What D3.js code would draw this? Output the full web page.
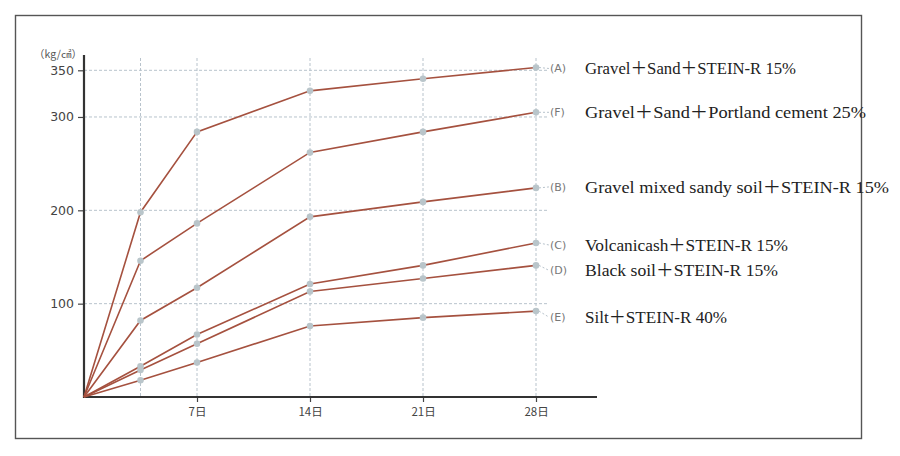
<!DOCTYPE html>
<html>
<head>
<meta charset="utf-8">
<script src="https://cdn.jsdelivr.net/npm/d3@7"></script>
<style>
  html, body { margin: 0; padding: 0; background: #fff; }
  svg { display: block; }
</style>
</head>
<body>
<svg id="chart" width="900" height="456"></svg>
<script>
// ---- data ----
const days = [0, 3.5, 7, 14, 21, 28];
const xTickDays = [7, 14, 21, 28];
const xTickLabels = ["7日", "14日", "21日", "28日"];
const yTickValues = [100, 200, 300, 350];
const yUnit = "（kg/㎠）";

const seriesKeys = ["A", "F", "B", "C", "D", "E"];
const seriesNames = [
  "Gravel＋Sand＋STEIN-R 15%",
  "Gravel＋Sand＋Portland cement 25%",
  "Gravel mixed sandy soil＋STEIN-R 15%",
  "Volcanicash＋STEIN-R 15%",
  "Black soil＋STEIN-R 15%",
  "Silt＋STEIN-R 40%"
];
const valuesA = [0, 198, 284, 328, 341, 353];
const valuesF = [0, 146, 186, 262, 284, 305];
const valuesB = [0, 82, 117, 193, 209, 224];
const valuesC = [0, 33, 67, 121, 141, 165];
const valuesD = [0, 29, 57, 113, 127, 141];
const valuesE = [0, 18, 37, 76, 85, 92];
const seriesValues = [valuesA, valuesF, valuesB, valuesC, valuesD, valuesE];

// ---- layout / style (not data) ----
const labelDy = [1, 0, -1, 2, 5, 6];          // small vertical nudges of the labels (px)
const labelWidths = [211, 281, 304, 203, 193, 142];
const lineColor = "#a5513f";
const markerColor = "#b9c5ca";
const gridColor = "#b8c3cc";

const svg = d3.select("#chart");

// outer frame
svg.append("rect")
  .attr("x", 15.5).attr("y", 15.5)
  .attr("width", 846).attr("height", 423)
  .attr("fill", "none").attr("stroke", "#555").attr("stroke-width", 1.4);

const x = d3.scaleLinear().domain([0, 28]).range([84, 536]);
const y = d3.scaleLinear().domain([0, 350]).range([397, 70.3]);

// grid lines
const grid = svg.append("g");
grid.selectAll("line.v").data(days.slice(1)).join("line")
  .attr("x1", d => x(d)).attr("x2", d => x(d))
  .attr("y1", 58).attr("y2", y(0))
  .attr("stroke", gridColor).attr("stroke-width", 1)
  .attr("stroke-dasharray", "3,2");
grid.selectAll("line.h").data(yTickValues).join("line")
  .attr("x1", x(0)).attr("x2", 548)
  .attr("y1", d => y(d)).attr("y2", d => y(d))
  .attr("stroke", gridColor).attr("stroke-width", 1)
  .attr("stroke-dasharray", "3,2");

// axes
const yAxis = d3.axisLeft(y).tickValues(yTickValues).tickSize(6).tickPadding(4);
const gy = svg.append("g").attr("transform", `translate(${x(0)},0)`).call(yAxis);
gy.select(".domain").remove();
gy.selectAll(".tick line").attr("stroke", "#444").attr("stroke-width", 1.2);
gy.selectAll(".tick text")
  .attr("fill", "#444").style("font-family", "'DejaVu Sans', sans-serif").style("font-size", "12.5px");

const xAxis = d3.axisBottom(x).tickValues(xTickDays)
  .tickFormat((d, i) => xTickLabels[i]).tickSize(5).tickPadding(6);
const gx = svg.append("g").attr("transform", `translate(0,${y(0)})`).call(xAxis);
gx.select(".domain").remove();
gx.selectAll(".tick line").attr("stroke", "#444").attr("stroke-width", 1.2);
gx.selectAll(".tick text")
  .attr("fill", "#444").style("font-family", "'Noto Sans CJK JP', sans-serif").style("font-size", "11.5px");

// axis lines
svg.append("line").attr("x1", x(0)).attr("x2", x(0)).attr("y1", 55).attr("y2", y(0) + 1)
  .attr("stroke", "#333").attr("stroke-width", 2.2);
svg.append("line").attr("x1", x(0) - 1).attr("x2", 597).attr("y1", y(0)).attr("y2", y(0))
  .attr("stroke", "#333").attr("stroke-width", 2.2);

// unit label
svg.append("text").attr("x", 58).attr("y", 58)
  .attr("text-anchor", "middle").attr("fill", "#555")
  .style("font-family", "'Noto Sans CJK JP', sans-serif").style("font-size", "10.5px")
  .text(yUnit);

// series
const line = d3.line().x((d, i) => x(days[i])).y(d => y(d));
const gs = svg.append("g");
seriesValues.forEach((vals, si) => {
  gs.append("path").datum(vals)
    .attr("d", line).attr("fill", "none")
    .attr("stroke", lineColor).attr("stroke-width", 1.6);
});
seriesValues.forEach((vals, si) => {
  gs.selectAll(null).data(vals.slice(1)).join("circle")
    .attr("cx", (d, i) => x(days[i + 1])).attr("cy", d => y(d))
    .attr("r", 3.3).attr("fill", markerColor);
});

// labels
seriesValues.forEach((vals, si) => {
  const last = vals[vals.length - 1];
  const ly = y(last) + labelDy[si];
  svg.append("line")
    .attr("x1", x(28) + 3).attr("x2", 549)
    .attr("y1", y(last)).attr("y2", ly)
    .attr("stroke", gridColor).attr("stroke-dasharray", "2,2");
  svg.append("text")
    .attr("x", 550).attr("y", ly + 4)
    .attr("fill", "#777")
    .style("font-family", "'DejaVu Sans', sans-serif").style("font-size", "11px")
    .text("(" + seriesKeys[si] + ")");
  svg.append("text")
    .attr("x", 585).attr("y", ly + 6)
    .attr("fill", "#222")
    .attr("textLength", labelWidths[si])
    .attr("lengthAdjust", "spacingAndGlyphs")
    .style("font-family", "'Liberation Serif', 'Noto Sans CJK JP', serif").style("font-size", "17px")
    .text(seriesNames[si]);
});
</script>
</body>
</html>
